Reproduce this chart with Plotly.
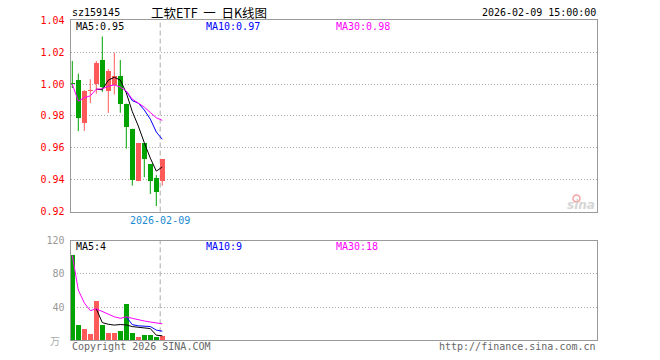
import plotly.graph_objects as go
import pandas as pd

# ---------------- data ----------------
idx = list(range(16))
open_ = [1.0003, 1.0025, 0.9756, 0.9955, 0.9998, 1.0151, 0.9958, 0.9994,
         1.0050, 0.9878, 0.9720, 0.9392, 0.9630, 0.9498, 0.9411, 0.9392]
high = [1.0145, 1.0065, 0.9962, 1.0030, 1.0145, 1.0298, 1.0095, 1.0197,
        1.0151, 0.9878, 0.9720, 0.9630, 0.9630, 0.9498, 0.9429, 0.9527]
low = [0.9975, 0.9705, 0.9706, 0.9880, 0.9940, 0.9951, 0.9819, 0.9935,
       0.9820, 0.9595, 0.9363, 0.9390, 0.9416, 0.9310, 0.9235, 0.9363]
close = [1.0000, 0.9785, 0.9958, 0.9962, 1.0134, 0.9983, 1.0084, 1.0050,
         0.9874, 0.9731, 0.9398, 0.9630, 0.9527, 0.9392, 0.9323, 0.9527]
volume = [102, 18.8, 14, 7.9, 46.7, 18.8, 9, 9, 11.5, 44, 9, 4.2, 6.6, 6.6, 4.2, 5.4]

price_ticks = [0.92, 0.94, 0.96, 0.98, 1.00, 1.02, 1.04]
price_tick_text = ["0.92", "0.94", "0.96", "0.98", "1.00", "1.02", "1.04"]
vol_ticks = [40, 80, 120]
vol_tick_text = ["40", "80", "120"]

code_label = "sz159145"
title_label = "工软ETF\u00a0\u00a0一\u00a0\u00a0日K线图"
time_label = "2026-02-09 15:00:00"
date_label = "2026-02-09"
marker_index = 14.65
price_ma_text = ["MA5:0.95", "MA10:0.97", "MA30:0.98"]
vol_ma_text = ["MA5:4", "MA10:9", "MA30:18"]

# ---------------- styles ----------------
RED = "#ff5a5a"
GREEN = "#00a300"
MA_COLORS = ["#000000", "#0000ff", "#ff00ff"]
BORDER = "#9a9a9a"
GRID = "#aaaaaa"
MONO = "DejaVu Sans Mono"
W, H = 660, 360

def px_x(p):
    return p / W

def px_y(p):
    return 1 - p / H

colors = [GREEN if c < o else RED for o, c in zip(open_, close)]
s_close = pd.Series(close)
s_vol = pd.Series(volume)
ma_price = [s_close.rolling(5, min_periods=5).mean(),
            s_close.rolling(10, min_periods=10).mean(),
            s_close.rolling(30, min_periods=1).mean()]
ma_vol = [s_vol.rolling(5, min_periods=5).mean(),
          s_vol.rolling(10, min_periods=10).mean(),
          s_vol.rolling(30, min_periods=1).mean()]

fig = go.Figure()

# wicks
for col in (RED, GREEN):
    xs, ys = [], []
    for i, c in zip(idx, colors):
        if c == col:
            xs += [i, i, None]
            ys += [low[i], high[i], None]
    fig.add_trace(go.Scatter(x=xs, y=ys, mode="lines", line=dict(color=col, width=1),
                             hoverinfo="skip", showlegend=False, xaxis="x", yaxis="y"))

# bodies
base = [min(o, c) for o, c in zip(open_, close)]
height = [max(abs(c - o), 0.0007) for o, c in zip(open_, close)]
fig.add_trace(go.Bar(x=idx, y=height, base=base, marker=dict(color=colors, line=dict(width=0)),
                     width=0.84, showlegend=False, xaxis="x", yaxis="y"))

for ma, col in zip(ma_price, MA_COLORS):
    fig.add_trace(go.Scatter(x=idx, y=ma, mode="lines", line=dict(color=col, width=1),
                             showlegend=False, xaxis="x", yaxis="y"))

# volume
fig.add_trace(go.Bar(x=idx, y=volume, marker=dict(color=colors, line=dict(width=0)),
                     width=0.84, showlegend=False, xaxis="x2", yaxis="y2"))
for ma, col in zip(ma_vol, MA_COLORS):
    fig.add_trace(go.Scatter(x=idx, y=ma, mode="lines", line=dict(color=col, width=1),
                             showlegend=False, xaxis="x2", yaxis="y2"))

xdom = [px_x(70.5), px_x(597.3)]
xrange_ = [-0.3, 87.5]
axis_common = dict(showline=True, mirror=True, linecolor=BORDER, linewidth=1,
                   zeroline=False, automargin=False)
GRIDDASH = "1px,2px"

fig.update_layout(
    width=W, height=H, margin=dict(l=0, r=0, t=0, b=0, autoexpand=False),
    paper_bgcolor="white", plot_bgcolor="white", bargap=0, showlegend=False,
    xaxis=dict(domain=xdom, range=xrange_, showticklabels=False, showgrid=False,
               ticks="", anchor="y", **axis_common),
    yaxis=dict(domain=[px_y(211.6), px_y(20.3)], range=[0.92, 1.04],
               tickvals=price_ticks, ticktext=price_tick_text,
               tickfont=dict(family=MONO, size=10, color="#ff0000"),
               ticks="outside", ticklen=3, tickcolor="rgba(0,0,0,0)",
               showgrid=True, gridcolor=GRID, griddash=GRIDDASH, gridwidth=1,
               anchor="x", **axis_common),
    xaxis2=dict(domain=xdom, range=xrange_, showticklabels=False, showgrid=False,
                ticks="", anchor="y2", **axis_common),
    yaxis2=dict(domain=[px_y(340.3), px_y(240.5)], range=[0, 120],
                tickvals=vol_ticks, ticktext=vol_tick_text,
                tickfont=dict(family=MONO, size=10, color="#999999"),
                ticks="outside", ticklen=3, tickcolor="rgba(0,0,0,0)",
                showgrid=True, gridcolor=GRID, griddash=GRIDDASH, gridwidth=1,
                anchor="x2", **axis_common),
)

# vertical dashed date marker
for xr, yr in (("x", "y domain"), ("x2", "y2 domain")):
    fig.add_shape(type="line", xref=xr, yref=yr, x0=marker_index, x1=marker_index, y0=0, y1=1,
                  line=dict(color="#aaaaaa", width=1, dash="5px,3px"), layer="below")

ann = []
def txt(text, x, y, color="#000000", size=10, xanchor="left", family=MONO, **kw):
    ann.append(dict(text=text, x=px_x(x), y=px_y(y), xref="paper", yref="paper",
                    xanchor=xanchor, yanchor="middle", showarrow=False,
                    font=dict(family=family, size=size, color=color, **kw)))

txt(code_label, 69.5, 13)
txt(title_label, 208.5, 12.5, size=12.5, xanchor="center", family="Noto Sans CJK SC")
txt(time_label, 597.5, 13, xanchor="right")
for t, x, c in zip(price_ma_text, (74, 204, 334), MA_COLORS):
    txt(t, x, 26.5, color=c)
for t, x, c in zip(vol_ma_text, (74, 204, 334), MA_COLORS):
    txt(t, x, 246.5, color=c)
txt("万", 62, 340, color="#aaaaaa", size=10, xanchor="right", family="Noto Sans CJK SC")
txt("Copyright 2026 SINA.COM", 69.5, 346.5, color="#666666")
txt("http://finance.sina.com.cn", 597.5, 346.5, color="#666666", xanchor="right")
txt("sina", 581, 205, color="#d6d6d6", size=12, xanchor="center", family="DejaVu Sans",
    weight="bold", style="italic")
ann.append(dict(text=date_label, x=marker_index, y=px_y(220), xref="x", yref="paper",
                xanchor="center", yanchor="middle", showarrow=False,
                font=dict(family=MONO, size=10, color="#1a8ad4")))
fig.update_layout(annotations=ann)

# small red swirl of the logo
fig.add_shape(type="circle", xref="paper", yref="paper",
              x0=px_x(573), x1=px_x(580), y0=px_y(202), y1=px_y(195),
              line=dict(color="#f2a0a0", width=1.5), fillcolor="rgba(0,0,0,0)")

fig.write_html("out.html", config={"displayModeBar": False, "staticPlot": True},
               post_script="document.body.style.margin='0';")
